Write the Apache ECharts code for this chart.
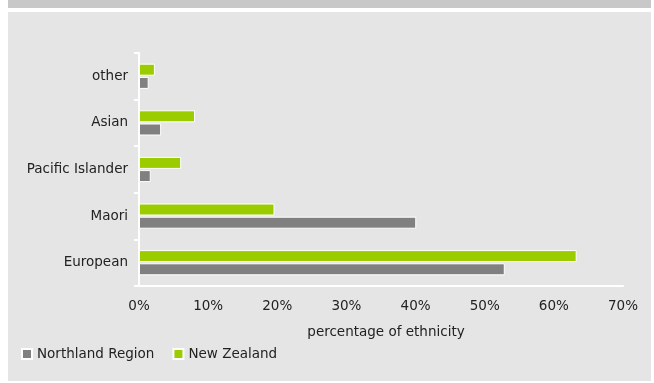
<!DOCTYPE html>
<html>
<head>
<meta charset="utf-8">
<script src="https://cdn.jsdelivr.net/npm/echarts@6/dist/echarts.min.js"></script>
<style>
  html, body { margin: 0; padding: 0; background: #ffffff; }
  #chart { width: 654px; height: 383px; }
</style>
</head>
<body>
<div id="chart"></div>
<script>
// Ethnic groups, bottom to top on the category axis
const categories = ['European', 'Maori', 'Pacific Islander', 'Asian', 'other'];
// Share of population in each group, percent
const northland = [52.9, 40.1, 1.7, 3.2, 1.4];
const newZealand = [63.3, 19.6, 6.1, 8.1, 2.3];
// Value axis ticks
const axisMax = 70;
const axisStep = 10;

const textColor = '#222222';
const font = "'DejaVu Sans', Verdana, sans-serif";
const fontSize = 13.5;

const chart = echarts.init(document.getElementById('chart'), null, { renderer: 'canvas' });

chart.setOption({
  backgroundColor: '#ffffff',
  animation: false,
  textStyle: { fontFamily: font },
  graphic: [
    { type: 'rect', z: -10, shape: { x: 8, y: 0, width: 643, height: 8 }, style: { fill: '#c8c8c8' } },
    { type: 'rect', z: -10, shape: { x: 8, y: 12, width: 643, height: 369 }, style: { fill: '#e5e5e5' } }
  ],
  grid: { left: 139, right: 31, top: 53, bottom: 97, containLabel: false },
  legend: {
    left: 21,
    top: 347,
    padding: 0,
    itemWidth: 10,
    itemHeight: 10,
    itemGap: 18,
    icon: 'rect',
    textStyle: { color: textColor, fontSize: fontSize, fontFamily: font },
    data: ['Northland Region', 'New Zealand']
  },
  xAxis: {
    type: 'value',
    min: 0,
    max: axisMax,
    interval: axisStep,
    name: 'percentage of ethnicity',
    nameLocation: 'middle',
    nameGap: 39,
    nameTextStyle: { color: textColor, fontSize: fontSize, fontFamily: font, padding: [0, 0, 0, 10] },
    axisLine: { show: true, lineStyle: { color: '#ffffff', width: 2 } },
    axisTick: { show: false },
    splitLine: { show: false },
    axisLabel: { color: textColor, fontSize: fontSize, fontFamily: font, margin: 13, formatter: '{value}%' }
  },
  yAxis: {
    type: 'category',
    data: categories,
    axisLine: { show: true, lineStyle: { color: '#ffffff', width: 2 } },
    axisTick: { show: true, length: 5, lineStyle: { color: '#ffffff', width: 2 } },
    axisLabel: { color: textColor, fontSize: fontSize, fontFamily: font, margin: 11 }
  },
  // New Zealand listed first so its bar sits above Northland within each band
  series: [
    {
      name: 'New Zealand',
      type: 'bar',
      data: newZealand,
      barWidth: 12,
      barGap: '10%',
      itemStyle: { color: '#9bcc00', borderColor: '#ffffff', borderWidth: 1 }
    },
    {
      name: 'Northland Region',
      type: 'bar',
      data: northland,
      barWidth: 12,
      barGap: '10%',
      itemStyle: { color: '#808080', borderColor: '#ffffff', borderWidth: 1 }
    }
  ]
});
</script>
</body>
</html>
